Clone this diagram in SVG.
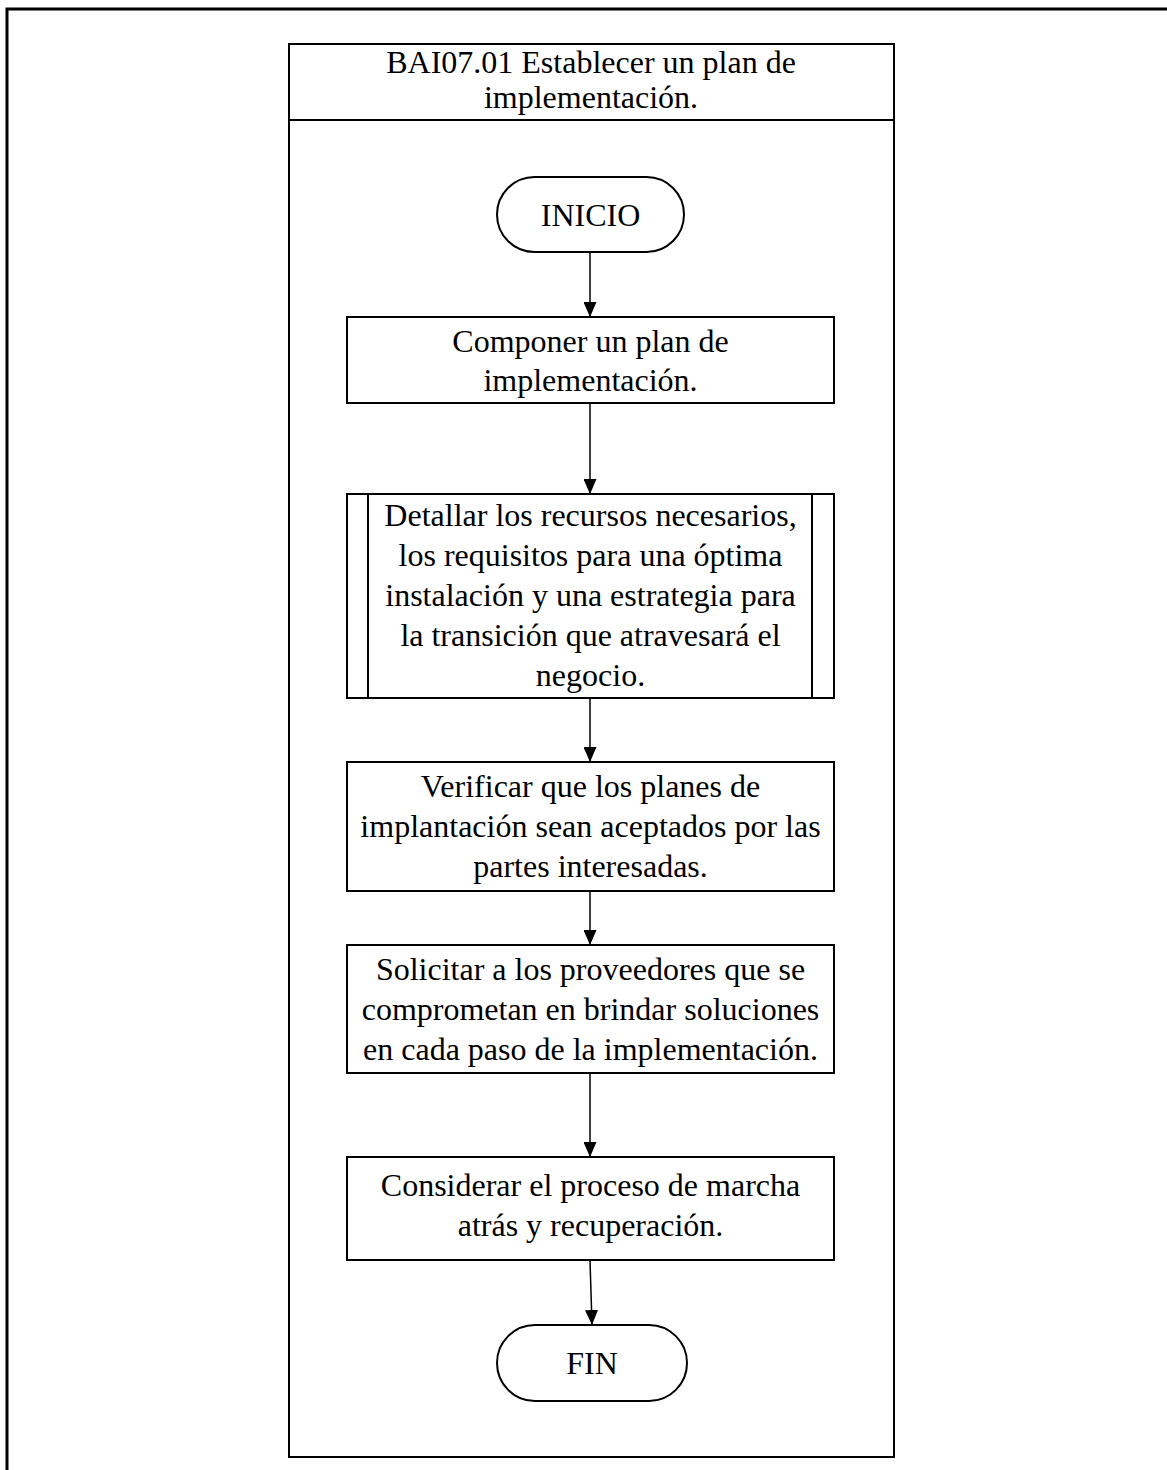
<svg xmlns="http://www.w3.org/2000/svg" width="1167" height="1470" viewBox="0 0 1167 1470">
  <defs>
    <!-- solid arrowhead, drawn along +x so orient="auto" follows the line -->
    <marker id="arrow" viewBox="0 0 15 13" refX="15" refY="6.5" markerWidth="15" markerHeight="13" markerUnits="userSpaceOnUse" orient="auto">
      <path d="M0,0 L15,6.5 L0,13 Z" fill="#000"/>
    </marker>
  </defs>
  <style>
    .frame { fill: none; stroke: #000; stroke-width: 3; }
    .box { fill: #fff; stroke: #000; stroke-width: 2; }
    .line { stroke: #000; stroke-width: 2; fill: none; }
    .conn { stroke: #000; stroke-width: 1.5; fill: none; }
    text { font-family: "Liberation Serif", "Times New Roman", serif; font-size: 32px; fill: #000; text-anchor: middle; }
  </style>

  <rect width="1167" height="1470" fill="#fff"/>
  <!-- page frame -->
  <rect class="frame" x="7" y="9" width="1180" height="1480"/>

  <!-- swimlane container -->
  <g id="lane">
    <rect class="box" x="289" y="44" width="605" height="1413"/>
    <line class="line" x1="289" y1="120" x2="894" y2="120"/>
    <text x="591" y="73">BAI07.01 Establecer un plan de</text>
    <text x="591" y="108">implementación.</text>
  </g>

  <!-- connectors -->
  <g id="connectors">
    <line class="conn" x1="590" y1="252" x2="590" y2="317" marker-end="url(#arrow)"/>
    <line class="conn" x1="590" y1="403" x2="590" y2="494" marker-end="url(#arrow)"/>
    <line class="conn" x1="590" y1="698" x2="590" y2="762" marker-end="url(#arrow)"/>
    <line class="conn" x1="590" y1="891" x2="590" y2="945" marker-end="url(#arrow)"/>
    <line class="conn" x1="590" y1="1073" x2="590" y2="1157" marker-end="url(#arrow)"/>
    <line class="conn" x1="590" y1="1260" x2="592" y2="1325" marker-end="url(#arrow)"/>
  </g>

  <g id="inicio">
    <rect class="box" x="497" y="177" width="187" height="75" rx="37.5"/>
    <text x="590.5" y="226">INICIO</text>
  </g>

  <g id="componer">
    <rect class="box" x="347" y="317" width="487" height="86"/>
    <text x="590.5" y="352">Componer un plan de</text>
    <text x="590.5" y="391">implementación.</text>
  </g>

  <g id="detallar">
    <rect class="box" x="347" y="494" width="487" height="204"/>
    <line class="line" x1="368" y1="494" x2="368" y2="698"/>
    <line class="line" x1="812" y1="494" x2="812" y2="698"/>
    <text x="590.5" y="526">Detallar los recursos necesarios,</text>
    <text x="590.5" y="566">los requisitos para una óptima</text>
    <text x="590.5" y="606">instalación y una estrategia para</text>
    <text x="590.5" y="646">la transición que atravesará el</text>
    <text x="590.5" y="686">negocio.</text>
  </g>

  <g id="verificar">
    <rect class="box" x="347" y="762" width="487" height="129"/>
    <text x="590.5" y="797">Verificar que los planes de</text>
    <text x="590.5" y="837">implantación sean aceptados por las</text>
    <text x="590.5" y="877">partes interesadas.</text>
  </g>

  <g id="solicitar">
    <rect class="box" x="347" y="945" width="487" height="128"/>
    <text x="590.5" y="980">Solicitar a los proveedores que se</text>
    <text x="590.5" y="1020">comprometan en brindar soluciones</text>
    <text x="590.5" y="1060">en cada paso de la implementación.</text>
  </g>

  <g id="considerar">
    <rect class="box" x="347" y="1157" width="487" height="103"/>
    <text x="590.5" y="1196">Considerar el proceso de marcha</text>
    <text x="590.5" y="1236">atrás y recuperación.</text>
  </g>

  <g id="fin">
    <rect class="box" x="497" y="1325" width="190" height="76" rx="38"/>
    <text x="592" y="1374">FIN</text>
  </g>
</svg>
